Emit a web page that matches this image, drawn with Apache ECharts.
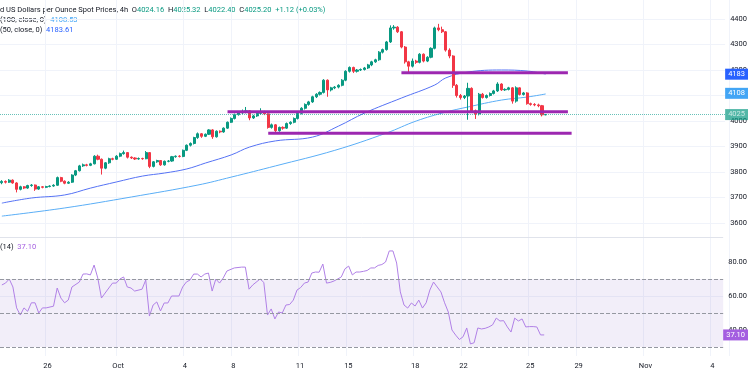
<!DOCTYPE html>
<html>
<head>
<meta charset="utf-8">
<script src="https://cdn.jsdelivr.net/npm/echarts@6/dist/echarts.min.js"></script>
<style>
  html, body { margin: 0; padding: 0; background: #fff; }
  #chart { width: 750px; height: 375px; }
</style>
</head>
<body>
<div id="chart"></div>
<script>
// 4h bars, [open, close, low, high]
const candles = [
  [3758, 3763, 3752, 3768], [3763, 3760, 3755, 3767], [3760, 3768, 3757, 3772], [3768, 3757, 3754, 3771],
  [3757, 3732, 3720, 3760], [3732, 3742, 3728, 3746], [3742, 3737, 3733, 3745], [3737, 3747, 3734, 3750],
  [3747, 3749, 3742, 3753], [3749, 3733, 3726, 3751], [3733, 3742, 3730, 3745], [3742, 3740, 3736, 3745],
  [3740, 3743, 3737, 3746], [3743, 3745, 3740, 3748], [3745, 3748, 3742, 3752], [3748, 3778, 3746, 3782],
  [3778, 3764, 3760, 3781], [3764, 3756, 3752, 3767], [3756, 3760, 3753, 3764], [3760, 3788, 3757, 3791],
  [3788, 3805, 3784, 3808], [3805, 3824, 3802, 3828], [3824, 3828, 3820, 3833], [3828, 3826, 3822, 3832],
  [3826, 3832, 3823, 3836], [3832, 3862, 3830, 3866], [3862, 3850, 3846, 3868], [3850, 3815, 3790, 3853],
  [3815, 3836, 3811, 3839], [3836, 3852, 3832, 3856], [3852, 3850, 3846, 3856], [3850, 3862, 3847, 3866],
  [3862, 3872, 3858, 3876], [3872, 3876, 3868, 3884], [3876, 3858, 3853, 3878], [3858, 3855, 3851, 3861],
  [3855, 3851, 3847, 3858], [3851, 3853, 3848, 3857], [3853, 3852, 3848, 3856], [3852, 3876, 3850, 3882],
  [3876, 3822, 3815, 3878], [3822, 3840, 3818, 3843], [3840, 3845, 3836, 3848], [3845, 3828, 3824, 3847],
  [3828, 3842, 3825, 3845], [3842, 3843, 3838, 3847], [3843, 3860, 3840, 3863], [3860, 3862, 3856, 3865],
  [3862, 3861, 3857, 3866], [3861, 3885, 3858, 3888], [3885, 3905, 3882, 3908], [3905, 3912, 3900, 3916],
  [3912, 3935, 3908, 3938], [3935, 3950, 3930, 3955], [3950, 3940, 3934, 3953], [3940, 3948, 3937, 3951],
  [3948, 3965, 3945, 3968], [3965, 3938, 3930, 3968], [3938, 3960, 3935, 3963], [3960, 3957, 3952, 3963],
  [3957, 3972, 3954, 3975], [3972, 3995, 3969, 3998], [3995, 4010, 3992, 4014], [4010, 4025, 4006, 4029],
  [4025, 4032, 4021, 4036], [4032, 4036, 4028, 4045], [4036, 4040, 4030, 4055], [4040, 4012, 4003, 4043],
  [4012, 4020, 4008, 4024], [4020, 4030, 4016, 4034], [4030, 4036, 4025, 4050], [4036, 4028, 4023, 4040],
  [4028, 3975, 3970, 4030], [3975, 3985, 3970, 3990], [3985, 3962, 3953, 3988], [3962, 3975, 3958, 3978],
  [3975, 3972, 3966, 3979], [3972, 3990, 3969, 3994], [3990, 3995, 3985, 3999], [3995, 4010, 3991, 4014],
  [4010, 4030, 4006, 4034], [4030, 4050, 4026, 4054], [4050, 4065, 4045, 4069], [4065, 4075, 4060, 4079],
  [4075, 4095, 4071, 4099], [4095, 4105, 4090, 4109], [4105, 4112, 4100, 4116], [4112, 4160, 4108, 4164],
  [4160, 4122, 4095, 4163], [4122, 4130, 4116, 4134], [4130, 4133, 4125, 4137], [4133, 4140, 4128, 4144],
  [4140, 4160, 4136, 4164], [4160, 4195, 4156, 4199], [4195, 4210, 4190, 4214], [4210, 4195, 4188, 4213],
  [4195, 4200, 4190, 4204], [4200, 4202, 4196, 4206], [4202, 4208, 4198, 4212], [4208, 4220, 4204, 4224],
  [4220, 4232, 4215, 4236], [4232, 4240, 4228, 4244], [4240, 4270, 4236, 4274], [4270, 4280, 4265, 4284],
  [4280, 4310, 4276, 4314], [4310, 4365, 4306, 4375], [4365, 4368, 4358, 4376], [4368, 4350, 4345, 4372],
  [4350, 4290, 4285, 4353], [4290, 4232, 4225, 4294], [4232, 4215, 4190, 4236], [4215, 4235, 4210, 4245],
  [4235, 4230, 4224, 4240], [4230, 4262, 4226, 4266], [4262, 4235, 4230, 4265], [4235, 4250, 4231, 4254],
  [4250, 4285, 4246, 4289], [4285, 4365, 4281, 4370], [4365, 4358, 4352, 4381], [4358, 4350, 4345, 4370],
  [4350, 4278, 4272, 4353], [4278, 4255, 4246, 4285], [4255, 4140, 4130, 4258], [4140, 4100, 4092, 4145],
  [4100, 4092, 4084, 4106], [4092, 4098, 4086, 4102], [4098, 4128, 4005, 4150], [4128, 4040, 4035, 4132],
  [4040, 4028, 4008, 4045], [4028, 4105, 4022, 4110], [4105, 4092, 4088, 4110], [4092, 4100, 4088, 4104],
  [4100, 4108, 4096, 4112], [4108, 4118, 4104, 4122], [4118, 4145, 4114, 4152], [4145, 4122, 4118, 4148],
  [4122, 4124, 4118, 4128], [4124, 4130, 4120, 4134], [4130, 4078, 4068, 4133], [4078, 4130, 4072, 4136],
  [4130, 4104, 4100, 4132], [4104, 4110, 4100, 4114], [4110, 4068, 4064, 4113], [4068, 4065, 4060, 4072],
  [4065, 4063, 4058, 4070], [4063, 4060, 4054, 4068], [4060, 4024.16, 4018, 4063], [4024.16, 4025.20, 4022.40, 4025.32]
];

// moving averages, [bar index, value]
const sma50Pts = [
  [0, 3678], [8, 3698], [17, 3710], [24, 3737], [31, 3761], [38, 3784], [44, 3796], [50, 3812],
  [55, 3835], [62, 3867], [67, 3898], [74, 3922], [84, 3937], [91, 3980], [98, 4031], [108, 4090],
  [117, 4141], [120, 4169], [126, 4192], [135, 4200], [142, 4196], [147, 4184]
];
const sma100Pts = [
  [0, 3627], [17, 3659], [35, 3702], [53, 3749], [62, 3780], [74, 3824], [90, 3885], [104, 3953],
  [112, 4000], [120, 4035], [126, 4055], [135, 4082], [142, 4094], [147, 4106]
];

// RSI(14), [bar index, value]
const rsiPts = [
  [0, 66.5], [1, 67.6], [2, 70], [3, 65.3], [4, 53], [5, 48.8], [6, 53], [7, 51], [8, 56], [9, 56],
  [10, 50], [11, 53], [12, 53], [14, 54], [15, 64.7], [16, 58.8], [17, 56], [18, 57.6], [19, 65.3],
  [21, 68.2], [22, 72.9], [23, 73], [24, 72.4], [25, 78.2], [26, 70.6], [27, 58.8], [29, 64.7],
  [30, 67.6], [31, 67.6], [32, 70], [33, 71.2], [34, 65.3], [35, 64.7], [36, 62.9], [38, 64],
  [39, 69.4], [40, 48.2], [41, 54.7], [42, 56.5], [43, 51.2], [44, 55.9], [45, 55.9], [46, 60],
  [48, 60], [49, 65.3], [50, 68.2], [51, 69.4], [52, 72.9], [53, 72.9], [54, 71.2], [55, 72.9],
  [56, 73.5], [57, 62.9], [58, 70], [59, 67.6], [60, 70.6], [61, 74.7], [63, 76.5], [65, 77],
  [66, 77], [67, 64], [68, 66.5], [70, 70], [71, 68], [72, 48.8], [73, 52.4], [74, 46.5], [75, 50.6],
  [76, 50], [77, 54.7], [78, 55], [79, 57.6], [80, 63.5], [81, 65], [82, 67.6], [83, 68.2],
  [84, 73.5], [85, 74.1], [86, 74], [87, 78.8], [88, 67.6], [89, 68], [90, 68.8], [91, 70],
  [92, 71.2], [93, 76], [94, 77.6], [95, 72.4], [96, 74.1], [97, 74.1], [98, 74.5], [99, 75],
  [100, 76.5], [101, 76.5], [102, 78], [103, 78.5], [104, 80], [105, 86.5], [106, 86.5], [107, 79.4],
  [108, 62.4], [109, 54.7], [110, 52.9], [111, 55.9], [112, 54.1], [113, 57.6], [114, 52.9], [115, 56],
  [116, 63.5], [117, 68.2], [118, 65.3], [119, 62.4], [120, 56], [121, 50.6], [122, 40], [123, 37],
  [124, 34.4], [125, 36], [126, 41.2], [127, 31.8], [128, 32.5], [129, 41.2], [130, 40.6], [131, 41],
  [132, 41.8], [133, 43], [134, 47], [135, 45.3], [136, 45.5], [137, 41.8], [138, 38.8], [139, 47],
  [140, 45.3], [141, 46.5], [142, 41.8], [143, 42], [144, 42], [145, 41.8], [146, 37.1], [147, 37.1]
];

// horizontal support / resistance levels
const levelValues = [4189, 4036, 3952];
const levelFrom = [108, 61, 72];
const levelTo = [153, 153, 154];

const tickIndex = [12, 31, 49, 62, 80, 93, 111, 124, 142, 155, 173, 191];
const tickText = ['26', 'Oct', '4', '8', '11', '15', '18', '22', '25', '29', 'Nov', '4'];
const priceTicks = [3600, 4400, 100];
const rsiLabels = [40, 60, 80];

const N = 196;
const categories = Array.from({ length: N }, (_, i) => {
  const k = tickIndex.indexOf(i);
  return k >= 0 ? tickText[k] : '';
});

const FONT = 'Roboto, "Noto Sans", sans-serif';
const FS = 7.5;
const TXT = '#131722';
const UP = '#089981';
const DOWN = '#f23645';
const SMA50_C = '#2962ff';
const SMA100_C = '#42a5f5';
const RSI_C = '#a45ee0';

// legend rows: [text, colour] pieces
const legendRows = [
  { y: 6, parts: [
    ['d US Dollars per Ounce Spot Prices, 4h  O', TXT], ['4024.16', UP], ['  H', TXT], ['4025.32', UP],
    ['  L', TXT], ['4022.40', UP], ['  C', TXT], ['4025.20', UP], ['  +1.12 (+0.03%)', UP],
  ] },
  { y: 16, parts: [['(100, close, 0)  ', TXT], ['4108.53', SMA100_C]] },
  { y: 26, parts: [['(50, close, 0)  ', TXT], ['4183.61', SMA50_C]] },
  { y: 243, parts: [['(14)  ', TXT], ['37.10', RSI_C]] },
];

function badge(value, text, bg) {
  return {
    yAxis: value,
    lineStyle: { color: 'transparent', width: 0 },
    label: {
      show: true, position: 'end', distance: 0, formatter: text,
      color: '#fff', backgroundColor: bg, padding: [2, 3, 1, 3],
      fontSize: FS, fontFamily: FONT,
    },
  }
}

function legendGraphics() {
  const ctx = document.createElement('canvas').getContext('2d');
  ctx.font = FS + 'px ' + FONT;
  const out = [];
  legendRows.forEach(row => {
    let x = 0;
    row.parts.forEach(([text, fill]) => {
      out.push({
        type: 'text', x, y: row.y, silent: true,
        style: { text, fill, fontSize: FS, fontFamily: FONT, textVerticalAlign: 'top' },
      });
      x += ctx.measureText(text).width;
    });
  });
  return out;
}

const chart = echarts.init(document.getElementById('chart'), null, { renderer: 'canvas' });

const levelSeries = levelValues.map((v, i) => ({
  type: 'line',
  xAxisIndex: 0, yAxisIndex: 0,
  data: [[levelFrom[i], v], [levelTo[i], v]],
  symbol: 'none',
  lineStyle: { color: '#9c27b0', width: 3 },
  z: 4,
}));

function buildOption() {
  return {
    animation: false,
    textStyle: { fontFamily: FONT },
    grid: [
      { left: 0, right: 21, top: 19, height: 204 },
      { left: 0, right: 21, top: 228, height: 136 },
      { left: 0, right: 21, top: 0, height: 356 },
    ],
    xAxis: [0, 1, 2].map(g => ({
      type: 'category',
      gridIndex: g,
      data: categories,
      boundaryGap: true,
      show: g === 2,
      axisLine: { show: false },
      axisTick: { show: false },
      axisLabel: { interval: 0, color: TXT, fontSize: FS, margin: 6, fontFamily: FONT },
      splitLine: {
        show: g === 2,
        interval: (idx, val) => val !== '',
        lineStyle: { color: '#f0f3fa' },
      },
    })),
    yAxis: [
      {
        type: 'value', gridIndex: 0, position: 'right',
        min: priceTicks[0], max: priceTicks[1], interval: priceTicks[2],
        axisLine: { show: false }, axisTick: { show: false },
        axisLabel: { color: TXT, fontSize: FS, margin: 5, fontFamily: FONT, formatter: v => String(v) },
        splitLine: { lineStyle: { color: '#f0f3fa' } },
      },
      {
        type: 'value', gridIndex: 1, position: 'right',
        min: 20, max: 100, interval: 20,
        axisLine: { show: false },
        axisTick: { show: false, customValues: rsiLabels },
        axisLabel: {
          color: TXT, fontSize: FS, margin: 5, fontFamily: FONT,
          customValues: rsiLabels,
          formatter: v => Number(v).toFixed(2),
        },
        splitLine: { showMinLine: false, showMaxLine: false, lineStyle: { color: '#f0f3fa' } },
      },
      { type: 'value', gridIndex: 2, show: false },
    ],
    graphic: legendGraphics(),
    series: [
      {
        type: 'line', name: 'SMA100', xAxisIndex: 0, yAxisIndex: 0,
        data: sma100Pts, smooth: 0.4, symbol: 'none',
        lineStyle: { color: '#5aaef6', width: 1 }, z: 2,
        markLine: { silent: true, symbol: 'none', data: [badge(4108.53, '4108', SMA100_C)] },
      },
      {
        type: 'line', name: 'SMA50', xAxisIndex: 0, yAxisIndex: 0,
        data: sma50Pts, smooth: 0.4, symbol: 'none',
        lineStyle: { color: '#5572f4', width: 1 }, z: 2,
        markLine: { silent: true, symbol: 'none', data: [badge(4183.61, '4183', SMA50_C)] },
      },
      {
        type: 'candlestick', xAxisIndex: 0, yAxisIndex: 0,
        data: candles, barWidth: '70%', z: 3,
        itemStyle: { color: UP, color0: DOWN, borderColor: UP, borderColor0: DOWN, borderWidth: 1 },
        markLine: {
          silent: true, symbol: 'none',
          data: [{
            yAxis: 4025.2,
            lineStyle: { type: 'dotted', color: '#26a69a', width: 1, opacity: 0.7 },
            label: {
              show: true, position: 'end', distance: 0, formatter: '4025',
              color: '#fff', backgroundColor: UP, padding: [2, 3, 1, 3],
              fontSize: FS, fontFamily: FONT,
            },
          }],
        },
      },
      ...levelSeries,
      {
        type: 'line', name: 'RSI', xAxisIndex: 1, yAxisIndex: 1,
        data: rsiPts, symbol: 'none',
        lineStyle: { color: '#b080e6', width: 1 }, z: 3,
        markArea: {
          silent: true,
          itemStyle: { color: 'rgba(126, 87, 194, 0.1)' },
          data: [[{ yAxis: 70 }, { yAxis: 30 }]],
        },
        markLine: {
          silent: true, symbol: 'none',
          lineStyle: { type: 'dashed', color: '#9598a1', width: 1 },
          label: { show: false },
          data: [
            { yAxis: 94.7, lineStyle: { type: 'solid', color: '#e0e3eb' } },
            { yAxis: 70 }, { yAxis: 50 }, { yAxis: 30 },
            badge(37.1, '37.10', RSI_C),
          ],
        },
      },
    ],
  }
}

chart.setOption(buildOption());
if (document.fonts && document.fonts.ready) {
  document.fonts.ready.then(() => chart.setOption(buildOption(), true));
}
</script>
</body>
</html>
